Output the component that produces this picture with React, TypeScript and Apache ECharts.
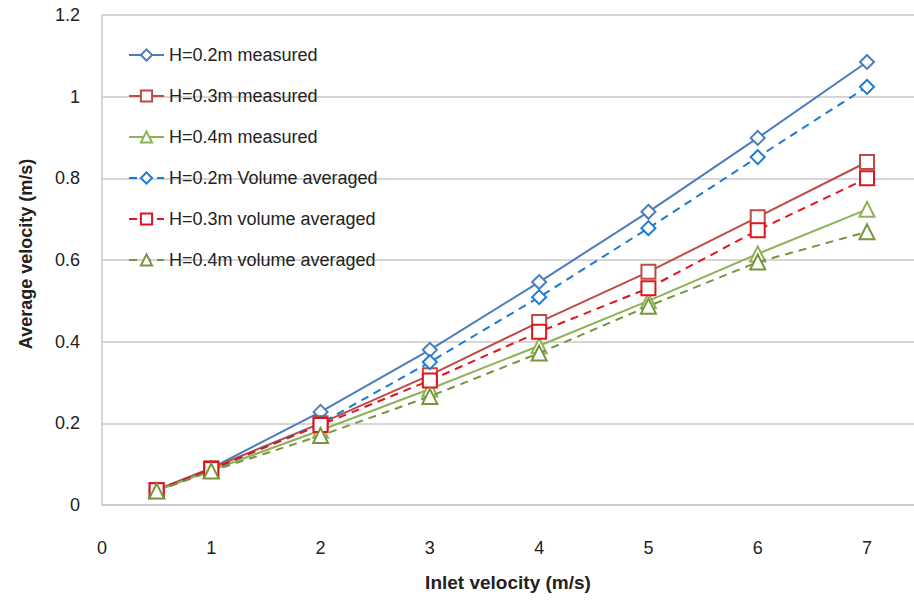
import React, { useEffect, useRef } from "react";
import * as echarts from "echarts";

const inletVelocity = [0.5, 1, 2, 3, 4, 5, 6, 7];
const h02Measured = [0.037, 0.09, 0.228, 0.38, 0.546, 0.718, 0.899, 1.085];
const h03Measured = [0.037, 0.09, 0.2, 0.318, 0.448, 0.571, 0.705, 0.84];
const h04Measured = [0.035, 0.085, 0.183, 0.284, 0.39, 0.5, 0.615, 0.724];
const h02Volume = [0.035, 0.086, 0.2, 0.35, 0.509, 0.678, 0.852, 1.024];
const h03Volume = [0.036, 0.088, 0.196, 0.305, 0.424, 0.531, 0.673, 0.8];
const h04Volume = [0.034, 0.083, 0.17, 0.266, 0.372, 0.487, 0.595, 0.669];
const yTicks = [0, 0.2, 0.4, 0.6, 0.8, 1, 1.2];

const FONT = "'Liberation Sans', Arial, sans-serif";

const pairs = (ys: number[]) => inletVelocity.map((x, i) => [x, ys[i]]);

export default function App() {
  const ref = useRef<HTMLDivElement>(null);
  useEffect(() => {
    document.body.style.margin = "0";
    const chart = echarts.init(ref.current!, null, { renderer: "svg" });
    const mk = (
      name: string,
      ys: number[],
      color: string,
      symbol: string,
      dashed: boolean
    ) => ({
      name,
      type: "line",
      data: pairs(ys),
      symbol,
      symbolSize: symbol === "emptyTriangle" ? 15 : 14,
      showSymbol: true,
      itemStyle: { color, borderWidth: 1.7 },
      lineStyle: { color, width: 2, type: dashed ? [8, 6] : "solid" },
      z: dashed ? 3 : 2,
    });
    chart.setOption({
      animation: false,
      backgroundColor: "#ffffff",
      grid: { left: 102, right: 0, top: 15, bottom: 97 },
      xAxis: {
        type: "value",
        min: 0,
        max: 7.43,
        interval: 1,
        name: "Inlet velocity (m/s)",
        nameLocation: "middle",
        nameGap: 68,
        nameTextStyle: { fontFamily: FONT, fontSize: 19, fontWeight: "bold", color: "#222" },
        axisLine: { show: true, lineStyle: { color: "#c8c8c8", width: 1.5 } },
        axisTick: { show: false },
        splitLine: { show: false },
        axisLabel: {
          showMaxLabel: false,
          margin: 34,
          fontFamily: FONT,
          fontSize: 18,
          color: "#222",
        },
      },
      yAxis: {
        type: "value",
        min: yTicks[0],
        max: yTicks[yTicks.length - 1],
        interval: 0.2,
        name: "Average velocity (m/s)",
        nameLocation: "middle",
        nameGap: 67,
        nameTextStyle: {
          fontFamily: FONT,
          fontSize: 18,
          fontWeight: "bold",
          color: "#222",
          padding: [0, 0, 0, 12],
        },
        axisLine: { show: true, lineStyle: { color: "#c8c8c8", width: 1.5 } },
        axisTick: { show: false },
        splitLine: { show: true, lineStyle: { color: "#c8c8c8", width: 1.5 } },
        axisLabel: {
          margin: 22,
          fontFamily: FONT,
          fontSize: 18,
          color: "#222",
          formatter: (v: number) => String(Math.round(v * 10) / 10),
        },
      },
      legend: {
        orient: "vertical",
        left: 123,
        top: 41,
        itemWidth: 35,
        itemHeight: 14,
        itemGap: 23,
        textStyle: { fontFamily: FONT, fontSize: 18, color: "#222" },
        data: [
          "H=0.2m measured",
          "H=0.3m measured",
          "H=0.4m measured",
          "H=0.2m Volume averaged",
          "H=0.3m volume averaged",
          "H=0.4m volume averaged",
        ],
      },
      series: [
        mk("H=0.2m measured", h02Measured, "#4a7ebb", "emptyDiamond", false),
        mk("H=0.3m measured", h03Measured, "#be4b48", "emptyRect", false),
        mk("H=0.4m measured", h04Measured, "#8db255", "emptyTriangle", false),
        mk("H=0.2m Volume averaged", h02Volume, "#1a7ad4", "emptyDiamond", true),
        mk("H=0.3m volume averaged", h03Volume, "#e0141c", "emptyRect", true),
        mk("H=0.4m volume averaged", h04Volume, "#77953c", "emptyTriangle", true),
      ],
    });
    return () => chart.dispose();
  }, []);
  return <div ref={ref} style={{ width: 914, height: 602 }} />;
}
